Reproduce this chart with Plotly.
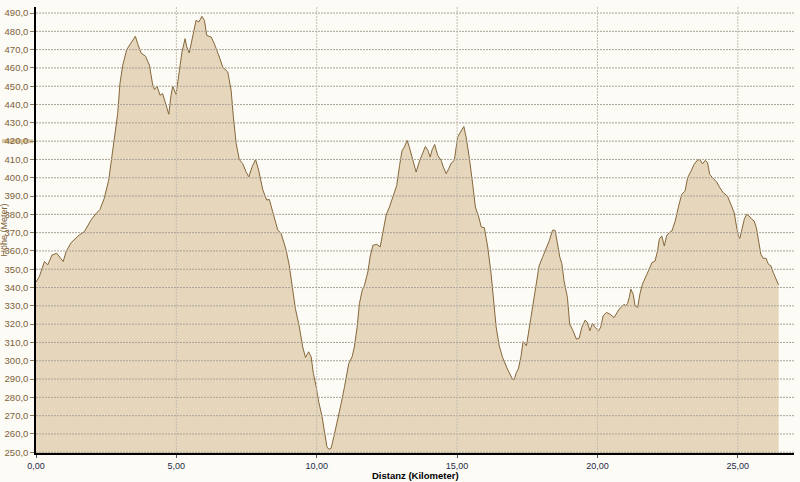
import plotly.graph_objects as go

distance_km = [
    0.00, 0.12, 0.30, 0.42, 0.57, 0.74, 0.97, 1.07, 1.25, 1.43, 1.54, 1.72, 1.96, 2.14, 2.28, 2.43,
    2.59, 2.67, 2.79, 2.91, 2.99, 3.09, 3.23, 3.38, 3.54, 3.62, 3.74, 3.90, 4.04, 4.16, 4.22, 4.31,
    4.42, 4.51, 4.63, 4.73, 4.81, 4.87, 4.99, 5.11, 5.20, 5.31, 5.37, 5.46, 5.58, 5.70, 5.80, 5.91,
    6.00, 6.08, 6.24, 6.35, 6.53, 6.65, 6.83, 6.95, 7.03, 7.13, 7.24, 7.36, 7.48, 7.58, 7.70, 7.82,
    7.93, 8.08, 8.22, 8.31, 8.43, 8.61, 8.73, 8.91, 9.02, 9.14, 9.24, 9.38, 9.50, 9.60, 9.71, 9.80,
    9.88, 9.98, 10.07, 10.19, 10.27, 10.36, 10.43, 10.51, 10.61, 10.75, 10.87, 10.99, 11.14, 11.26,
    11.34, 11.44, 11.52, 11.62, 11.70, 11.82, 11.90, 12.00, 12.14, 12.26, 12.35, 12.47, 12.59, 12.73,
    12.85, 12.95, 13.04, 13.12, 13.22, 13.30, 13.42, 13.54, 13.66, 13.78, 13.87, 13.96, 14.04, 14.11,
    14.20, 14.31, 14.43, 14.51, 14.61, 14.70, 14.79, 14.90, 15.02, 15.14, 15.24, 15.32, 15.44, 15.56,
    15.65, 15.77, 15.86, 15.97, 16.09, 16.21, 16.29, 16.39, 16.50, 16.62, 16.79, 16.97, 17.03, 17.11,
    17.18, 17.27, 17.35, 17.47, 17.62, 17.78, 17.92, 18.04, 18.16, 18.28, 18.40, 18.49, 18.57, 18.66,
    18.73, 18.81, 18.93, 19.01, 19.13, 19.25, 19.35, 19.44, 19.56, 19.64, 19.73, 19.82, 19.92, 20.04,
    20.12, 20.20, 20.32, 20.44, 20.59, 20.68, 20.77, 20.87, 20.95, 21.01, 21.07, 21.13, 21.19, 21.27,
    21.34, 21.43, 21.51, 21.60, 21.72, 21.84, 21.94, 22.05, 22.14, 22.20, 22.29, 22.38, 22.46, 22.55,
    22.65, 22.77, 22.89, 23.00, 23.12, 23.21, 23.33, 23.44, 23.56, 23.65, 23.74, 23.84, 23.92, 24.00,
    24.12, 24.24, 24.36, 24.48, 24.63, 24.75, 24.87, 24.95, 25.02, 25.07, 25.14, 25.23, 25.31, 25.40,
    25.50, 25.58, 25.66, 25.74, 25.82, 25.90, 26.00, 26.09, 26.18, 26.26, 26.35, 26.45,
]

elevation_m = [
    343.0, 346.0, 354.2, 352.4, 357.8, 358.7, 354.2, 359.6, 364.5, 366.9, 368.7, 370.5, 376.9, 380.5, 382.7, 388.7,
    398.7, 407.8, 420.5, 435.1, 451.5, 461.5, 470.0, 473.3, 477.3, 473.3, 468.2, 466.4, 461.5, 450.5, 448.2, 450.0,
    445.1, 446.0, 439.6, 434.7, 445.1, 450.0, 445.6, 458.7, 468.7, 476.0, 471.5, 468.2, 476.9, 486.0, 485.1, 488.2,
    486.0, 477.8, 476.9, 473.3, 466.0, 460.5, 457.8, 447.8, 433.3, 418.7, 410.0, 407.8, 403.3, 400.5, 406.0, 410.0,
    404.2, 393.3, 387.8, 388.2, 381.5, 371.5, 369.6, 360.5, 352.2, 340.4, 328.5, 318.5, 307.6, 301.8, 304.9, 302.2,
    293.1, 285.8, 277.6, 269.5, 262.2, 253.1, 251.6, 252.2, 258.5, 267.6, 276.7, 285.8, 298.5, 302.2,
    307.6, 318.5, 331.3, 338.5, 341.3, 348.5, 356.7, 363.1, 363.6, 362.2, 369.5, 379.5, 384.0, 390.4,
    395.8, 406.7, 414.9, 416.7, 420.4, 416.7, 410.4, 403.1, 409.1, 414.0, 417.1, 414.9, 411.3, 415.3,
    418.2, 412.2, 409.5, 405.8, 402.2, 404.9, 408.0, 409.5, 422.2, 425.5, 428.0, 422.2, 410.4, 395.8,
    384.0, 378.5, 373.1, 372.7, 362.2, 347.6, 333.1, 318.5, 308.2, 301.8, 295.5, 290.0, 289.5, 293.6,
    295.5, 301.8, 310.5, 308.2, 322.7, 338.2, 351.8, 356.4, 360.9, 365.5, 371.3, 371.3, 364.5, 356.4,
    353.1, 343.6, 334.5, 320.0, 316.4, 311.8, 312.4, 318.2, 322.2, 320.9, 316.4, 320.4, 318.2, 316.4,
    318.5, 324.5, 326.4, 325.5, 323.6, 325.8, 328.2, 329.6, 330.9, 330.0, 331.3, 334.5, 339.1, 336.4,
    330.0, 329.1, 336.4, 341.8, 346.4, 350.0, 353.6, 354.5, 360.0, 366.4, 368.2, 362.7, 368.2, 370.0,
    370.9, 376.4, 384.5, 390.9, 392.7, 400.0, 403.6, 407.3, 409.6, 410.0, 407.6, 409.5, 408.2, 401.8,
    399.6, 397.8, 394.5, 391.8, 390.0, 385.5, 380.9, 373.6, 368.2, 366.9, 370.9, 377.3, 380.0, 379.1,
    377.3, 376.4, 372.7, 366.4, 358.2, 356.0, 356.0, 352.7, 351.8, 348.2, 344.5, 341.5,
]

x_ticks = [0, 5, 10, 15, 20, 25]
y_ticks = list(range(250, 491, 10))
highlight_y = 420
x_title = "Distanz (Kilometer)"
y_title = "Höhe (Meter)"

BG = "#fcfbf6"
FILL = "#e5d6bc"
LINE = "#86673a"
GRID = "#aaa396"
YLAB = "#7d6138"
XLAB = "#1f2b46"

fig = go.Figure()
fig.add_trace(go.Scatter(
    x=distance_km, y=elevation_m, mode="lines", fill="tozeroy",
    fillcolor=FILL, line=dict(color=LINE, width=1), hoverinfo="skip",
    showlegend=False,
))

shapes = []
for yv in y_ticks:
    shapes.append(dict(type="line", xref="paper", yref="y", x0=0, x1=1, y0=yv, y1=yv,
                       line=dict(color=GRID, width=1, dash="2px,1px"), layer="above"))
for xv in x_ticks[1:]:
    shapes.append(dict(type="line", xref="x", yref="paper", x0=xv, x1=xv, y0=0, y1=1,
                       line=dict(color="#c4beb2", width=1, dash="2px,1px"), layer="above"))
# highlight band behind the 420 label
shapes.append(dict(type="line", xref="paper", yref="y", x0=-0.045, x1=-0.004,
                   y0=highlight_y, y1=highlight_y,
                   line=dict(color="#d9c7a3", width=4), layer="below"))

fig.update_layout(
    width=800, height=482,
    margin=dict(l=36, r=6, t=7, b=29, autoexpand=False),
    paper_bgcolor=BG, plot_bgcolor=BG,
    separators=",.",
    font=dict(family="Liberation Sans, Arial, sans-serif", size=9),
    shapes=shapes,
    xaxis=dict(
        range=[0, 27.0], tickvals=x_ticks, tickformat=".2f",
        showgrid=False, zeroline=False, automargin=False,
        showline=True, linecolor="#000000", linewidth=1.5,
        ticks="outside", ticklen=3, tickcolor="#555555",
        tickfont=dict(color=XLAB, size=9),
    ),
    yaxis=dict(
        range=[249.6, 493.3], tickvals=y_ticks, tickformat=".1f",
        showgrid=False, zeroline=False, automargin=False,
        showline=True, linecolor="#000000", linewidth=1.5,
        ticks="outside", ticklen=4, tickcolor="#8a7a60",
        tickfont=dict(color=YLAB, size=9.5),
    ),
    annotations=[
        dict(
            text=y_title, xref="paper", yref="paper", x=-0.0416, y=0.5,
            xanchor="center", yanchor="middle", textangle=-90, showarrow=False,
            font=dict(color=YLAB, size=9),
        ),
        dict(
            text="<b>" + x_title + "</b>", xref="paper", yref="paper", x=0.5, y=0,
            xanchor="center", yanchor="top", yshift=-15, showarrow=False,
            font=dict(color="#000000", size=9.5),
        ),
    ],
)

fig.write_html(
    "out.html",
    config={"displayModeBar": False},
    post_script="document.body.style.margin='0';document.body.style.overflow='hidden';",
)
